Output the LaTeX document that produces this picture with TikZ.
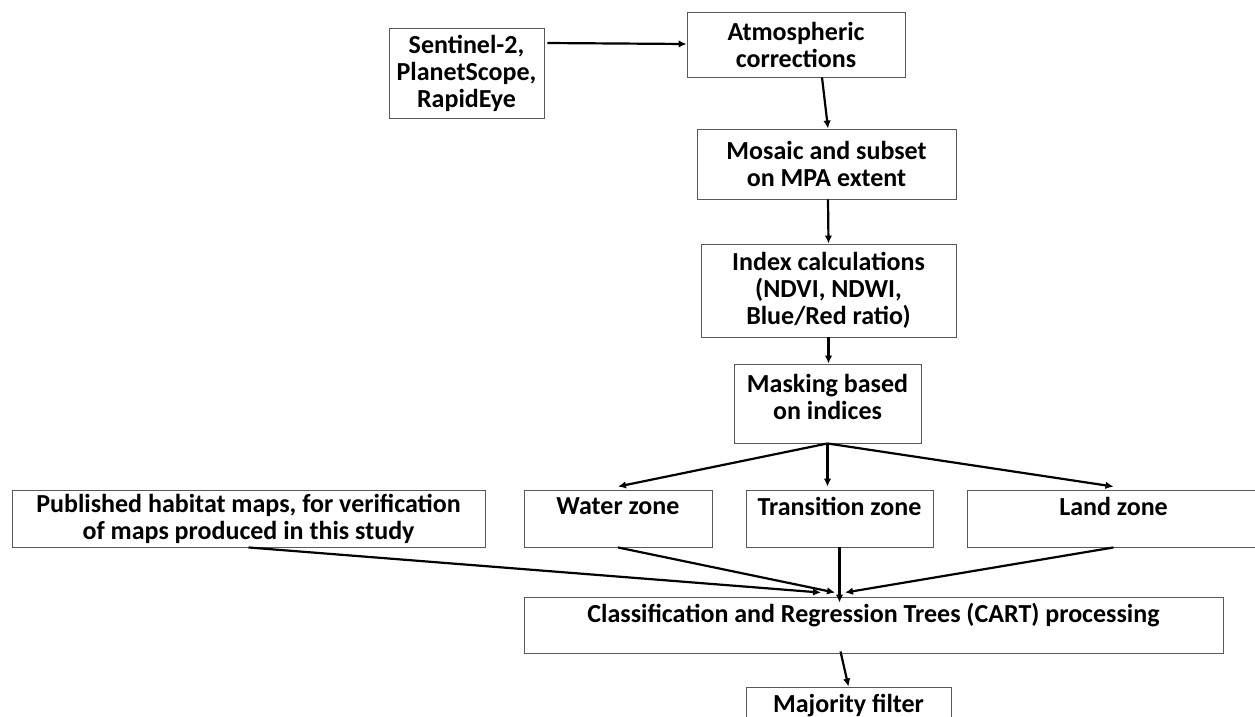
\documentclass[tikz,border=0pt]{standalone}
\usepackage{fontspec}
\setmainfont{Carlito}
\usetikzlibrary{arrows.meta,calc}
\tikzset{
  box/.style={draw=black!65, line width=0.9pt, align=center, inner sep=0pt,
    font=\fontsize{26}{27}\selectfont\bfseries},
  conn/.style={draw=black, line width=2.2pt, -{Latex[length=8pt,width=7.5pt]}}
}
\begin{document}
\begin{tikzpicture}[x=1pt,y=-1pt]
\clip (0,0) rectangle (1255,716);
\fill[white] (0,0) rectangle (1255,716);
\node[box, minimum width=155pt, minimum height=90pt] (src) at (466.5,73) {Sentinel-2,\\PlanetScope,\\RapidEye};
\node[box, minimum width=218pt, minimum height=65pt] (atm) at (796,44.5) {Atmospheric\\corrections};
\node[box, minimum width=259pt, minimum height=70pt] (mos) at (826.5,164) {Mosaic and subset\\on MPA extent};
\node[box, minimum width=255pt, minimum height=93pt] (idx) at (828.5,290.5) {Index calculations\\(NDVI, NDWI,\\Blue/Red ratio)};
\node[box, minimum width=187pt, minimum height=79pt] (msk) at (827.5,403.5) {Masking based\\on indices\\[-13pt]\mbox{}};
\node[box, minimum width=473pt, minimum height=57pt] (pub) at (248.5,518.5) {Published habitat maps, for verification\\of maps produced in this study};
\node[box, minimum width=188pt, minimum height=57pt] (wat) at (618,518.5) {Water zone\\[-3pt]\mbox{}};
\node[box, minimum width=187pt, minimum height=57pt] (tra) at (839.5,518.5) {Transition zone\\[-3pt]\mbox{}};
\node[box, minimum width=293pt, minimum height=57pt] (lnd) at (1113.5,518.5) {Land zone\\[-3pt]\mbox{}};
\node[box, minimum width=699pt, minimum height=56pt] (cart) at (873.5,625) {Classification and Regression Trees (CART) processing\\[-3pt]\mbox{}};
\node[box, minimum width=205pt, minimum height=57pt] (maj) at (848.5,715.5) {Majority filter\\[-3pt]\mbox{}};
\coordinate (cin) at (tra.south |- cart.north);
\draw[conn] ([xshift=3pt,yshift=30pt]src.east) -- ([yshift=0.5pt]atm.west);
\draw[conn] ([xshift=26pt]atm.south) -- ([xshift=1.5pt]mos.north);
\draw[conn] ([xshift=1.5pt]mos.south) -- (idx.north);
\draw[conn] (idx.south) -- (idx.south |- msk.north);
\draw[conn] (msk.south) -- ([yshift=3pt]wat.north);
\draw[conn] (msk.south) -- ([yshift=3pt]msk.south |- tra.north);
\draw[conn] (msk.south) -- ([yshift=3pt]lnd.north);
\draw[conn] (pub.south) -- ([xshift=-18.5pt,yshift=4pt]cin);
\draw[conn] (wat.south) -- ([xshift=-4.5pt,yshift=4pt]cin);
\draw[conn] (tra.south) -- ([yshift=-6pt]cin);
\draw[conn] (lnd.south) -- ([xshift=5.5pt,yshift=4pt]cin);
\draw[conn] ([xshift=-33pt,yshift=2pt]cart.south) -- (maj.north);
\end{tikzpicture}
\end{document}
